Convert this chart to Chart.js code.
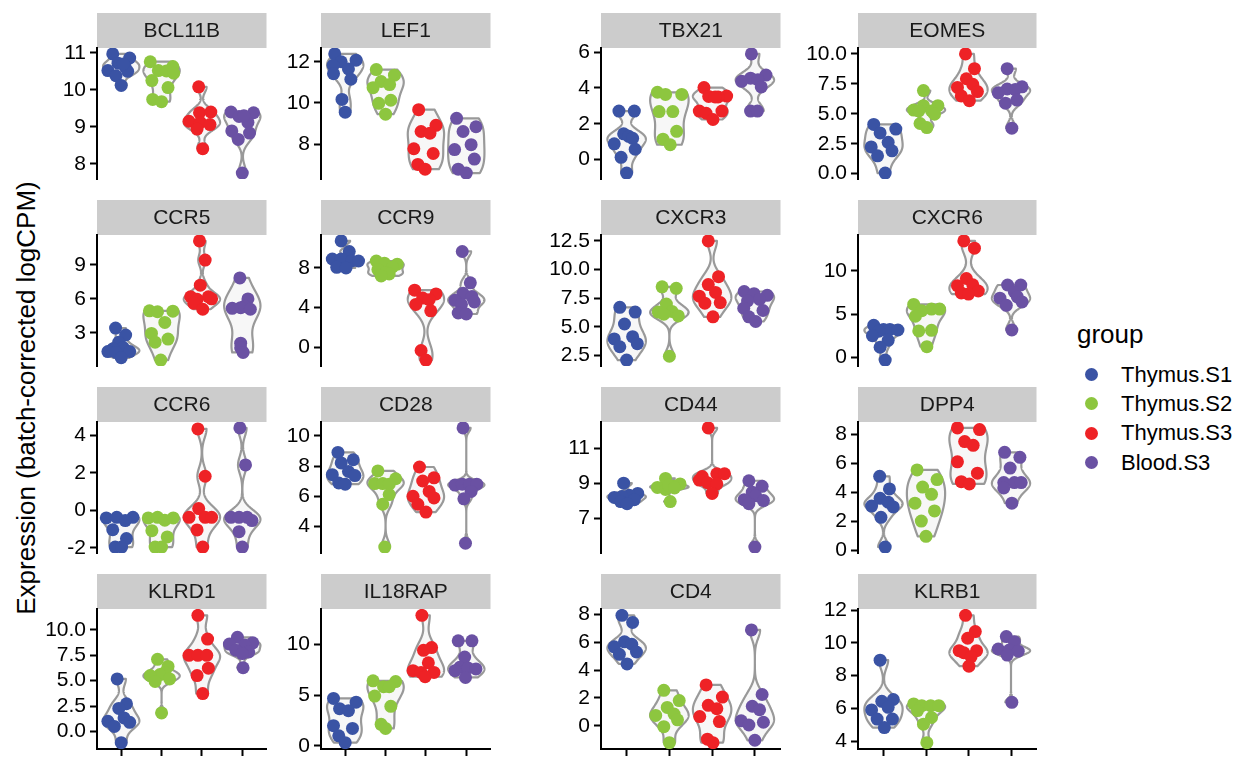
<!DOCTYPE html>
<html>
<head>
<meta charset="utf-8">
<script src="https://cdn.jsdelivr.net/npm/chart.js@4/dist/chart.umd.min.js"></script>
<style>
  body { margin: 0; background: #fff; width: 1248px; height: 768px; position: relative; overflow: hidden;
         font-family: "Liberation Sans", Arial, sans-serif; color: #000; }
  canvas { position: absolute; }
  #ytitle { position: absolute; left: 26px; top: 398px; font-size: 26px; white-space: nowrap;
            transform: translate(-50%, -50%) rotate(-90deg); line-height: 1; }
  #legend { position: absolute; left: 1077px; top: 321px; }
  #legend .ttl { font-size: 26px; line-height: 26px; margin-bottom: 13px; }
  #legend .item { display: flex; align-items: center; height: 29.3px; font-size: 22px; }
  #legend .dot { width: 13px; height: 13px; border-radius: 50%; margin-left: 8px; margin-right: 23px; }
</style>
</head>
<body>
<div id="ytitle">Expression (batch-corrected logCPM)</div>
<div id="legend"><div class="ttl">group</div></div>
<script>
const groups = ["Thymus.S1", "Thymus.S2", "Thymus.S3", "Blood.S3"];
const groupColors = ["#3A53A4", "#8DC63F", "#EE2226", "#6A51A3"];
const genes = ["BCL11B", "LEF1", "TBX21", "EOMES", "CCR5", "CCR9", "CXCR3", "CXCR6",
               "CCR6", "CD28", "CD44", "DPP4", "KLRD1", "IL18RAP", "CD4", "KLRB1"];

// expression per gene, one array per group (Thymus.S1, Thymus.S2, Thymus.S3, Blood.S3)
const expr_BCL11B = [[10.97, 10.86, 10.72, 10.62, 10.52, 10.50, 10.38, 10.12, 10.70],
                     [10.76, 10.63, 10.52, 10.51, 10.25, 10.06, 9.74, 9.68, 10.45],
                     [10.08, 9.38, 9.40, 9.15, 9.12, 9.06, 8.94, 8.41],
                     [9.40, 9.38, 9.28, 9.12, 8.89, 8.83, 8.66, 7.75, 9.30]];
const expr_LEF1 = [[12.38, 12.08, 12.00, 11.83, 11.65, 11.42, 11.15, 10.17, 9.55],
                   [11.62, 11.35, 11.04, 10.89, 10.74, 10.13, 9.98, 9.45],
                   [9.67, 8.91, 8.61, 8.53, 7.77, 7.54, 7.01, 6.78],
                   [9.25, 8.84, 8.61, 7.97, 7.73, 7.27, 6.78, 6.59]];
const expr_TBX21 = [[2.71, 2.71, 1.44, 1.30, 1.19, 0.88, 0.58, 0.13, -0.75],
                    [3.76, 3.64, 3.64, 2.68, 2.68, 1.58, 1.14, 0.83],
                    [4.02, 3.55, 3.53, 3.50, 3.50, 2.71, 2.71, 2.59, 2.24],
                    [5.90, 4.72, 4.55, 4.46, 4.37, 4.06, 2.71, 2.71]];
const expr_EOMES = [[4.11, 3.72, 3.40, 2.62, 2.23, 1.91, 1.49, 0.05],
                    [6.94, 5.68, 5.68, 5.31, 5.24, 5.24, 4.97, 4.19, 3.85],
                    [10.0, 8.77, 7.93, 7.46, 7.20, 6.86, 6.49, 6.10],
                    [8.77, 7.25, 7.07, 7.02, 6.75, 6.15, 5.89, 3.80]];
const expr_CCR5 = [[3.42, 2.81, 2.18, 1.70, 1.60, 1.35, 1.35, 1.27, 0.80],
                   [4.94, 4.86, 4.91, 3.92, 2.95, 2.45, 2.18, 0.60],
                   [11.1, 9.41, 7.20, 6.18, 6.18, 6.00, 5.96, 5.60, 5.08],
                   [7.84, 5.99, 5.35, 5.22, 5.16, 5.08, 2.09, 1.68, 1.27]];
const expr_CCR9 = [[10.72, 9.66, 8.90, 8.90, 8.70, 8.70, 8.06, 8.00],
                   [8.70, 8.48, 8.38, 8.10, 7.84, 7.52, 7.40, 7.20],
                   [5.76, 5.38, 4.96, 4.80, 4.32, 3.68, -0.32, -1.28],
                   [9.66, 6.50, 5.44, 5.12, 4.74, 4.58, 4.32, 3.46, 3.36]];
const expr_CXCR3 = [[6.70, 6.28, 5.24, 4.13, 3.94, 3.52, 3.25, 2.09],
                    [8.49, 8.36, 6.98, 6.34, 6.28, 5.95, 6.10, 2.42],
                    [12.5, 9.38, 8.69, 8.00, 7.67, 7.11, 7.06, 5.87],
                    [8.08, 7.89, 7.75, 7.39, 7.25, 6.62, 6.42, 5.87, 5.46]];
const expr_CXCR6 = [[3.72, 3.25, 3.25, 3.18, 3.05, 2.53, 1.99, 1.19, -0.29],
                    [6.14, 5.60, 5.60, 5.42, 4.77, 3.14, 3.07, 1.26],
                    [13.47, 12.64, 9.13, 8.41, 8.30, 7.69, 7.47, 7.33],
                    [8.38, 8.38, 7.58, 7.00, 6.86, 6.43, 6.03, 3.18]];
const expr_CCR6 = [[-0.40, -0.37, -0.37, -0.54, -1.03, -1.50, -1.95, -1.95],
                   [-0.40, -0.37, -0.40, -0.52, -1.08, -1.41, -1.95, -1.95],
                   [4.34, 1.82, 0.10, -0.37, -0.37, -0.37, -1.04, -1.95],
                   [4.39, 2.42, -0.37, -0.37, -0.37, -0.54, -1.13, -1.95]];
const expr_CD28 = [[8.91, 8.42, 8.21, 7.64, 7.43, 7.37, 6.88, 6.80],
                   [7.68, 7.16, 6.84, 6.84, 6.80, 6.11, 5.47, 2.63],
                   [7.94, 7.22, 7.01, 6.32, 6.00, 5.89, 5.47, 4.95],
                   [10.53, 6.74, 6.80, 6.80, 6.80, 6.32, 5.83, 2.88]];
const expr_CD44 = [[9.02, 8.44, 8.33, 8.26, 8.21, 8.08, 7.97, 7.85],
                   [9.29, 8.98, 8.84, 8.78, 8.66, 8.90, 8.75, 7.97],
                   [12.17, 9.56, 9.56, 9.40, 9.20, 9.05, 8.98, 8.44],
                   [9.16, 8.84, 8.51, 8.30, 8.08, 8.03, 7.85, 5.38]];
const expr_DPP4 = [[5.10, 4.23, 3.58, 3.32, 3.05, 2.99, 2.27, 0.22],
                   [5.54, 4.88, 4.36, 3.86, 3.25, 2.71, 2.01, 0.96],
                   [8.44, 8.33, 7.50, 7.24, 6.10, 5.32, 4.73, 4.58],
                   [6.76, 6.41, 5.67, 4.67, 4.67, 4.67, 4.30, 3.25]];
const expr_KLRD1 = [[5.17, 2.73, 2.27, 1.33, 1.00, 0.90, 0.50, -1.10],
                    [7.10, 6.40, 5.80, 5.60, 5.50, 5.17, 4.93, 1.83],
                    [11.43, 9.10, 7.50, 7.50, 7.50, 6.23, 5.50, 3.73],
                    [9.27, 8.73, 8.60, 8.50, 8.00, 7.83, 7.67, 6.27]];
const expr_IL18RAP = [[4.67, 4.30, 3.67, 3.47, 2.00, 1.73, 1.00, 0.33],
                      [6.40, 6.33, 5.83, 5.83, 4.90, 3.90, 2.13, 1.73],
                      [12.83, 9.67, 9.40, 8.17, 7.40, 7.23, 7.23, 6.80],
                      [10.33, 10.33, 8.73, 7.73, 7.67, 7.57, 7.40, 6.73]];
const expr_CD4 = [[7.95, 7.44, 6.04, 5.87, 5.68, 5.31, 5.14, 4.45],
                  [2.55, 1.81, 1.32, 0.84, 0.74, 0.42, -0.07, -1.22],
                  [2.94, 2.06, 1.47, 1.23, 0.66, 0.30, -0.97, -1.22],
                  [6.90, 2.25, 1.40, 1.15, 0.35, 0.25, 0.05, -1.05]];
const expr_KLRB1 = [[8.95, 6.54, 6.43, 6.06, 5.90, 5.34, 5.34, 4.82],
                    [6.27, 6.16, 6.16, 6.16, 5.86, 5.44, 5.03, 3.90],
                    [11.69, 10.70, 10.29, 9.53, 9.53, 9.40, 9.15, 8.58],
                    [10.39, 10.08, 9.63, 9.57, 9.50, 9.26, 6.37]];

// y tick labels per panel
const ticks_BCL11B = ["8", "9", "10", "11"];
const ticks_LEF1 = ["8", "10", "12"];
const ticks_TBX21 = ["0", "2", "4", "6"];
const ticks_EOMES = ["0.0", "2.5", "5.0", "7.5", "10.0"];
const ticks_CCR5 = ["3", "6", "9"];
const ticks_CCR9 = ["0", "4", "8"];
const ticks_CXCR3 = ["2.5", "5.0", "7.5", "10.0", "12.5"];
const ticks_CXCR6 = ["0", "5", "10"];
const ticks_CCR6 = ["-2", "0", "2", "4"];
const ticks_CD28 = ["4", "6", "8", "10"];
const ticks_CD44 = ["7", "9", "11"];
const ticks_DPP4 = ["0", "2", "4", "6", "8"];
const ticks_KLRD1 = ["0.0", "2.5", "5.0", "7.5", "10.0"];
const ticks_IL18RAP = ["0", "5", "10"];
const ticks_CD4 = ["0", "2", "4", "6", "8"];
const ticks_KLRB1 = ["4", "6", "8", "10", "12"];

// horizontal jitter of each point (category units)
const jit_BCL11B = [[-0.21, 0.21, -0.08, 0.10, -0.33, 0.16, -0.13, 0.00, 0.05],
                    [-0.28, 0.28, -0.08, 0.12, -0.24, 0.16, -0.22, 0.00, 0.30],
                    [-0.08, -0.06, 0.22, -0.32, -0.04, 0.20, -0.12, 0.02],
                    [-0.28, 0.28, -0.08, 0.14, -0.26, 0.18, -0.10, 0.00, 0.04]];
const jit_LEF1 = [[-0.26, 0.27, -0.10, -0.30, 0.08, -0.29, 0.14, -0.08, 0.00],
                  [-0.23, 0.22, -0.11, 0.10, -0.31, 0.13, -0.17, 0.00],
                  [-0.18, 0.25, -0.12, 0.10, -0.30, 0.18, -0.20, -0.02],
                  [-0.24, 0.24, -0.08, 0.12, -0.29, 0.20, -0.20, 0.00]];
const jit_TBX21 = [[-0.18, 0.18, -0.07, 0.05, 0.14, -0.29, 0.20, -0.13, 0.00],
                   [-0.28, -0.09, 0.29, -0.24, 0.08, 0.17, -0.15, 0.02],
                   [-0.19, 0.34, -0.08, 0.14, 0.07, -0.30, 0.23, -0.14, 0.02],
                   [-0.08, 0.26, -0.10, 0.07, -0.31, 0.15, -0.10, 0.06]];
const jit_EOMES = [[-0.23, 0.29, -0.08, 0.11, -0.29, 0.20, -0.14, 0.04],
                   [-0.06, -0.06, 0.28, -0.29, 0.13, -0.17, 0.20, -0.14, 0.02],
                   [-0.07, 0.14, -0.05, 0.10, -0.26, 0.21, -0.17, 0.02],
                   [-0.09, 0.26, -0.09, 0.10, -0.30, 0.14, -0.13, 0.02]];
const jit_CCR5 = [[-0.14, 0.11, -0.06, 0.05, -0.20, -0.33, 0.21, -0.13, 0.00],
                  [-0.30, -0.10, 0.28, 0.08, -0.25, 0.16, -0.16, -0.02],
                  [-0.06, 0.08, -0.04, -0.28, 0.16, 0.24, -0.12, -0.20, 0.02],
                  [-0.06, 0.14, 0.06, -0.04, -0.25, 0.20, -0.04, -0.04, 0.02]];
const jit_CCR9 = [[-0.10, 0.10, -0.32, -0.10, 0.16, 0.33, -0.21, 0.02],
                  [-0.23, -0.03, 0.29, 0.17, -0.19, 0.01, 0.09, -0.11],
                  [-0.28, 0.25, -0.08, 0.08, -0.25, 0.12, -0.12, 0.00],
                  [-0.10, 0.10, -0.08, 0.14, -0.28, 0.20, -0.12, -0.20, 0.00]];
const jit_CXCR3 = [[-0.16, 0.20, -0.05, 0.14, -0.29, 0.25, -0.16, 0.00],
                   [-0.17, 0.16, -0.07, 0.06, -0.26, 0.21, -0.13, 0.00],
                   [-0.09, 0.15, -0.09, 0.08, -0.30, 0.19, -0.17, 0.02],
                   [-0.25, -0.02, 0.29, 0.11, -0.17, -0.26, 0.19, -0.14, 0.02]];
const jit_CXCR6 = [[-0.23, 0.00, 0.15, 0.34, -0.11, -0.26, 0.11, -0.08, 0.04],
                   [-0.29, 0.13, 0.32, -0.10, -0.25, 0.13, -0.17, 0.02],
                   [-0.11, 0.14, -0.05, 0.10, -0.26, 0.23, -0.17, 0.00],
                   [-0.08, 0.23, 0.08, 0.15, -0.26, 0.26, -0.11, 0.02]];
const jit_CCR6 = [[-0.37, -0.11, 0.29, 0.10, -0.21, 0.13, -0.15, 0.01],
                  [-0.33, -0.10, 0.29, 0.08, -0.24, 0.14, -0.16, 0.00],
                  [-0.10, 0.08, -0.08, -0.32, 0.08, 0.24, -0.12, 0.02],
                  [-0.06, 0.08, -0.28, -0.08, 0.12, 0.24, -0.08, 0.00]];
const jit_CD28 = [[-0.18, 0.20, -0.10, 0.08, -0.32, 0.24, -0.16, 0.00],
                  [-0.19, 0.25, -0.27, -0.07, 0.09, 0.09, -0.07, -0.02],
                  [-0.16, 0.20, -0.08, 0.08, -0.32, 0.20, -0.20, 0.00],
                  [-0.08, -0.28, -0.10, 0.08, 0.26, 0.12, -0.06, -0.02]];
const jit_CD44 = [[-0.07, 0.26, 0.06, -0.11, -0.29, 0.18, -0.14, 0.01],
                  [-0.09, 0.25, 0.10, -0.28, -0.09, -0.02, 0.12, 0.02],
                  [-0.09, 0.11, 0.29, -0.23, -0.30, -0.11, 0.11, 0.00],
                  [-0.14, 0.17, -0.06, 0.02, -0.25, 0.20, -0.14, 0.00]];
const jit_DPP4 = [[-0.09, 0.14, -0.08, 0.11, -0.28, 0.23, -0.06, 0.04],
                  [-0.21, 0.26, -0.08, 0.13, -0.26, 0.20, -0.11, 0.00],
                  [-0.26, 0.26, -0.09, 0.11, -0.26, 0.21, -0.17, 0.02],
                  [-0.15, 0.21, -0.02, -0.17, 0.08, 0.24, -0.17, 0.02]];
const jit_KLRD1 = [[-0.10, 0.13, -0.06, 0.07, -0.33, 0.21, -0.17, 0.00],
                   [-0.10, 0.16, 0.08, -0.04, -0.28, 0.20, -0.16, 0.00],
                   [-0.10, 0.14, -0.32, -0.10, 0.12, 0.16, -0.12, 0.02],
                   [-0.12, 0.26, -0.32, 0.06, -0.16, 0.16, 0.00, 0.02]];
const jit_IL18RAP = [[-0.29, 0.27, -0.14, 0.08, -0.29, 0.18, -0.16, 0.00],
                     [-0.31, 0.25, -0.05, 0.09, -0.27, 0.13, -0.11, 0.00],
                     [-0.10, 0.14, -0.06, 0.06, -0.32, -0.12, 0.20, -0.02],
                     [-0.20, 0.14, -0.04, -0.16, 0.04, 0.24, -0.28, -0.02]];
const jit_CD4 = [[-0.11, 0.14, -0.05, 0.12, -0.29, 0.23, -0.17, 0.01],
                 [-0.13, 0.23, -0.05, 0.11, -0.32, 0.19, -0.13, 0.00],
                 [-0.14, 0.24, -0.09, 0.11, -0.29, 0.17, -0.11, 0.02],
                 [-0.08, 0.17, -0.06, 0.11, -0.32, 0.20, -0.14, 0.00]];
const jit_KLRB1 = [[-0.08, 0.23, -0.04, 0.11, -0.28, -0.15, 0.21, 0.02],
                   [-0.29, -0.10, 0.11, 0.30, -0.20, 0.13, -0.06, 0.02],
                   [-0.07, 0.16, -0.02, -0.22, 0.19, -0.11, 0.06, 0.01],
                   [-0.11, 0.08, -0.30, -0.04, 0.17, -0.09, 0.02]];

const exprByGene = { BCL11B: expr_BCL11B, LEF1: expr_LEF1, TBX21: expr_TBX21, EOMES: expr_EOMES,
  CCR5: expr_CCR5, CCR9: expr_CCR9, CXCR3: expr_CXCR3, CXCR6: expr_CXCR6, CCR6: expr_CCR6,
  CD28: expr_CD28, CD44: expr_CD44, DPP4: expr_DPP4, KLRD1: expr_KLRD1, IL18RAP: expr_IL18RAP,
  CD4: expr_CD4, KLRB1: expr_KLRB1 };
const ticksByGene = { BCL11B: ticks_BCL11B, LEF1: ticks_LEF1, TBX21: ticks_TBX21, EOMES: ticks_EOMES,
  CCR5: ticks_CCR5, CCR9: ticks_CCR9, CXCR3: ticks_CXCR3, CXCR6: ticks_CXCR6, CCR6: ticks_CCR6,
  CD28: ticks_CD28, CD44: ticks_CD44, DPP4: ticks_DPP4, KLRD1: ticks_KLRD1, IL18RAP: ticks_IL18RAP,
  CD4: ticks_CD4, KLRB1: ticks_KLRB1 };
const jitByGene = { BCL11B: jit_BCL11B, LEF1: jit_LEF1, TBX21: jit_TBX21, EOMES: jit_EOMES,
  CCR5: jit_CCR5, CCR9: jit_CCR9, CXCR3: jit_CXCR3, CXCR6: jit_CXCR6, CCR6: jit_CCR6,
  CD28: jit_CD28, CD44: jit_CD44, DPP4: jit_DPP4, KLRD1: jit_KLRD1, IL18RAP: jit_IL18RAP,
  CD4: jit_CD4, KLRB1: jit_KLRB1 };

// facet layout
const colLeft = [97, 321, 601, 858];
const colWidth = [176, 176, 186, 185];
const rowTop = [13, 200, 387, 574];
const AXIS_W = 52, STRIP_H = 35, PANEL_H = 140, XAXIS_H = 9;
const FONT = '"Liberation Sans", Arial, sans-serif';

// gaussian kernel density, bandwidth as R's bw.nrd0, trimmed to data range
function bwNrd0(x) {
  const n = x.length;
  const mean = x.reduce((a, b) => a + b, 0) / n;
  const sd = Math.sqrt(x.reduce((a, b) => a + (b - mean) ** 2, 0) / (n - 1));
  const s = [...x].sort((a, b) => a - b);
  const q = p => { const h = (n - 1) * p, lo = Math.floor(h); return s[lo] + (h - lo) * (s[Math.min(lo + 1, n - 1)] - s[lo]); };
  let lo = Math.min(sd, (q(0.75) - q(0.25)) / 1.34);
  if (!(lo > 0)) lo = sd || 1;
  return 0.9 * lo * Math.pow(n, -0.2);
}

function violinShape(x) {
  const bw = bwNrd0(x);
  const min = Math.min(...x), max = Math.max(...x);
  const pts = [];
  for (let i = 0; i <= 200; i++) {
    const y = min + (max - min) * i / 200;
    let d = 0;
    for (const v of x) d += Math.exp(-0.5 * ((y - v) / bw) ** 2);
    pts.push([y, d]);
  }
  const dmax = Math.max(...pts.map(p => p[1]));
  return pts.map(([y, d]) => [y, d / dmax]);
}

function violinPlugin(sets) {
  return {
    id: "violins",
    beforeDatasetsDraw(chart) {
      const { ctx, scales: { x, y } } = chart;
      sets.forEach((vals, g) => {
        const shape = violinShape(vals);
        const cx = g + 1;
        ctx.save();
        ctx.beginPath();
        shape.forEach(([v, w], i) => {
          const px = x.getPixelForValue(cx + 0.45 * w), py = y.getPixelForValue(v);
          if (i) ctx.lineTo(px, py); else ctx.moveTo(px, py);
        });
        for (let i = shape.length - 1; i >= 0; i--) {
          const [v, w] = shape[i];
          ctx.lineTo(x.getPixelForValue(cx - 0.45 * w), y.getPixelForValue(v));
        }
        ctx.closePath();
        ctx.fillStyle = "#F7F7F7";
        ctx.fill();
        ctx.strokeStyle = "#999999";
        ctx.lineWidth = 2.2;
        ctx.lineJoin = "round";
        ctx.stroke();
        ctx.restore();
      });
    }
  };
}

function stripPlugin(label) {
  return {
    id: "strip",
    beforeDraw(chart) {
      const { ctx, chartArea } = chart;
      ctx.save();
      ctx.fillStyle = "#CCCCCC";
      ctx.fillRect(chartArea.left, 0, chartArea.right - chartArea.left, STRIP_H);
      ctx.fillStyle = "#1A1A1A";
      ctx.font = "21px " + FONT;
      ctx.textAlign = "center";
      ctx.textBaseline = "middle";
      ctx.fillText(label, (chartArea.left + chartArea.right) / 2, STRIP_H / 2 + 1);
      ctx.restore();
    }
  };
}

const axisGrid = { drawOnChartArea: false, tickLength: 7, tickColor: "#000", tickWidth: 2 };
const axisBorder = { display: true, color: "#000", width: 2 };

genes.forEach((gene, i) => {
  const row = Math.floor(i / 4), col = i % 4;
  const bottom = row === 3;
  const sets = exprByGene[gene], jit = jitByGene[gene], tickLabels = ticksByGene[gene];
  const all = sets.flat();
  const lo = Math.min(...all), hi = Math.max(...all), pad = (hi - lo) * 0.05;

  const w = AXIS_W + colWidth[col], h = STRIP_H + PANEL_H + (bottom ? XAXIS_H : 0);
  const canvas = document.createElement("canvas");
  canvas.width = w; canvas.height = h;
  canvas.style.left = (colLeft[col] - AXIS_W) + "px";
  canvas.style.top = rowTop[row] + "px";
  canvas.style.width = w + "px"; canvas.style.height = h + "px";
  document.body.appendChild(canvas);

  new Chart(canvas.getContext("2d"), {
    type: "scatter",
    data: {
      datasets: sets.map((vals, g) => ({
        label: groups[g],
        data: vals.map((v, k) => ({ x: g + 1 + jit[g][k], y: v })),
        backgroundColor: groupColors[g],
        borderWidth: 0,
        pointRadius: 6.5,
        pointHoverRadius: 6.5,
      })),
    },
    options: {
      responsive: false,
      animation: false,
      devicePixelRatio: 1,
      layout: { padding: { top: STRIP_H, left: 0, right: 0, bottom: 0 } },
      plugins: { legend: { display: false }, tooltip: { enabled: false } },
      scales: {
        x: {
          type: "linear", min: 0.4, max: 4.6, display: bottom,
          afterBuildTicks: s => { s.ticks = [1, 2, 3, 4].map(v => ({ value: v })); },
          afterFit: s => { s.height = XAXIS_H; s.paddingLeft = 0; s.paddingRight = 0; },
          ticks: { callback: () => "", padding: 0 },
          grid: axisGrid,
          border: axisBorder,
        },
        y: {
          min: lo - pad, max: hi + pad,
          afterBuildTicks: s => { s.ticks = tickLabels.map(t => ({ value: parseFloat(t) })); },
          afterFit: s => { s.width = AXIS_W; s.paddingTop = 0; s.paddingBottom = 0; },
          ticks: {
            callback: (v, idx) => tickLabels[idx],
            color: "#000",
            font: { family: FONT, size: 21 },
            padding: 4,
          },
          grid: axisGrid,
          border: axisBorder,
        },
      },
    },
    plugins: [stripPlugin(gene), violinPlugin(sets)],
  });
});

// legend
const legend = document.getElementById("legend");
groups.forEach((g, i) => {
  const item = document.createElement("div");
  item.className = "item";
  item.innerHTML = `<span class="dot" style="background:${groupColors[i]}"></span><span>${g}</span>`;
  legend.appendChild(item);
});
</script>
</body>
</html>
